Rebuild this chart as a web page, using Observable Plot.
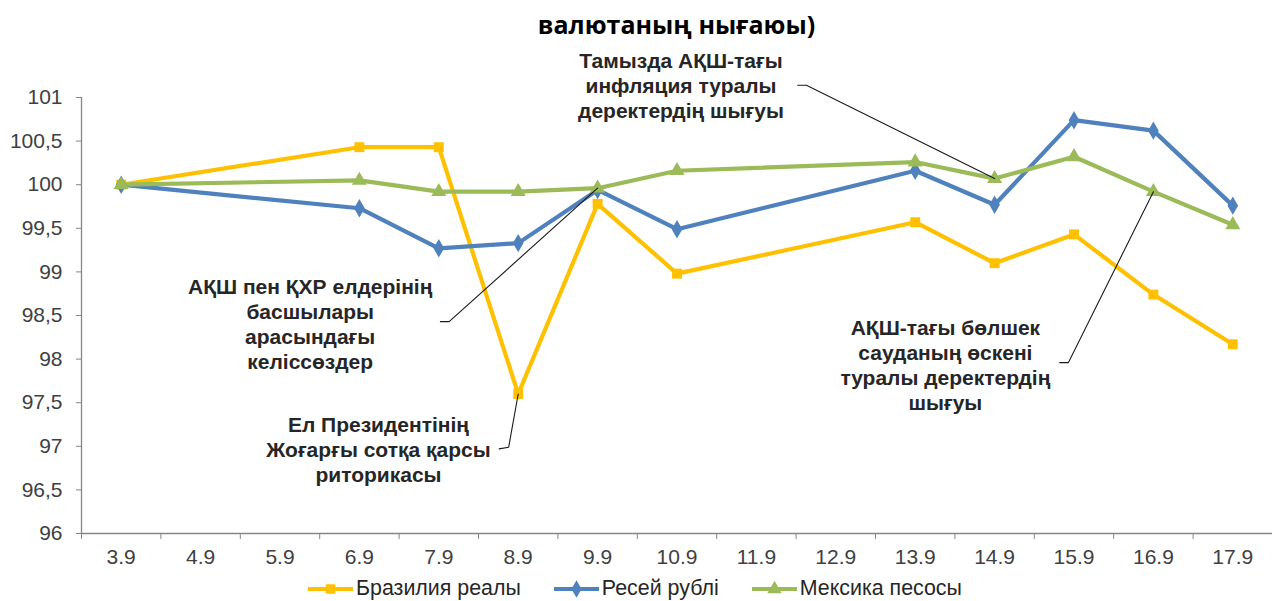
<!DOCTYPE html>
<html>
<head>
<meta charset="utf-8">
<script src="https://cdn.jsdelivr.net/npm/d3@7"></script>
<script src="https://cdn.jsdelivr.net/npm/@observablehq/plot@0.6"></script>
<style>
  html, body { margin: 0; padding: 0; background: #fff; }
  body { width: 1272px; height: 601px; overflow: hidden; position: relative;
         font-family: "Liberation Sans", Arial, sans-serif; }
  #title { position: absolute; top: 7px; left: 81px; width: 1191px; text-align: center;
           font-family: "Open Sans", sans-serif; font-weight: 700; font-size: 25px; color: #000; }
  #chart { position: absolute; top: 40px; left: 0; }
  #legend { position: absolute; top: 576px; left: 308px; display: flex; align-items: center;
            font-size: 21.4px; color: #262626; white-space: nowrap; }
  .item { display: flex; align-items: center; margin-right: 33px; }
  .item svg { margin-right: 3px; }
</style>
</head>
<body>
<div id="title">валютаның нығаюы)</div>
<div id="chart"></div>
<div id="legend"></div>
<script>
// ---- data ----
const categories = ["3.9","4.9","5.9","6.9","7.9","8.9","9.9","10.9","11.9","12.9","13.9","14.9","15.9","16.9","17.9"];
const seriesNames = ["Бразилия реалы", "Ресей рублі", "Мексика песосы"];
const brazil = [100, null, null, 100.43, 100.43, 97.6, 99.78, 98.98, null, null, 99.57, 99.10, 99.43, 98.74, 98.17];
const russia = [100, null, null, 99.73, 99.27, 99.33, 99.94, 99.49, null, null, 100.16, 99.77, 100.74, 100.62, 99.76];
const mexico = [100, null, null, 100.05, 99.92, 99.92, 99.96, 100.16, null, null, 100.26, 100.07, 100.32, 99.92, 99.54];
const yTicks = [96, 96.5, 97, 97.5, 98, 98.5, 99, 99.5, 100, 100.5, 101];
const seriesColors = ["#FFC000", "#4F81BD", "#9BBB59"];
const seriesSymbols = ["square", "diamond", "triangle"];

// annotations: text, text anchor (category index, value), connector start/elbow, target (category, series)
const annTexts = [
  "Тамызда АҚШ-тағы\nинфляция туралы\nдеректердің шығуы",
  "АҚШ пен ҚХР елдерінің\nбасшылары\nарасындағы\nкеліссөздер",
  "Ел Президентінің\nЖоғарғы сотқа қарсы\nриторикасы",
  "АҚШ-тағы бөлшек\nсауданың өскені\nтуралы деректердің\nшығуы"
];
const annX = [7.05, 2.38, 3.24, 10.38];
const annY = [101.14, 98.41, 96.97, 97.94];
const annStart = [[8.52, 101.14], [4.02, 98.43], [4.76, 96.97], [11.82, 97.96]];
const annElbow = [[8.63, 101.14], [4.13, 98.43], [4.88, 96.99], [11.93, 97.96]];
const annTargetCat = ["14.9", "9.9", "8.9", "16.9"];
const annTargetSeries = [2, 2, 0, 2];

// ---- build tables ----
const seriesValues = [brazil, russia, mexico];
const data = [];
seriesValues.forEach((vals, s) => {
  vals.forEach((v, i) => { if (v != null) data.push({series: seriesNames[s], idx: i, value: v}); });
});
const annData = annTexts.map((t, k) => ({text: t, x: annX[k], y: annY[k]}));
const connData = [];
annTexts.forEach((t, k) => {
  const ti = categories.indexOf(annTargetCat[k]);
  const tv = seriesValues[annTargetSeries[k]][ti];
  connData.push({k, x: annStart[k][0], y: annStart[k][1]});
  connData.push({k, x: annElbow[k][0], y: annElbow[k][1]});
  connData.push({k, x: ti, y: tv});
});
const boundaries = d3.range(-0.5, categories.length, 1);
const centers = d3.range(categories.length);
const yMin = yTicks[0], yMax = yTicks[yTicks.length - 1];
const axisGray = "#868686";
const labelColor = "#404040";

const chart = Plot.plot({
  width: 1272,
  height: 530,
  marginLeft: 81,
  marginRight: 0,
  marginTop: 57,
  marginBottom: 37,
  style: {fontFamily: '"Liberation Sans", Arial, sans-serif', background: "#fff", overflow: "visible"},
  x: {type: "linear", domain: [-0.5, categories.length - 0.5], axis: null},
  y: {domain: [yMin, yMax], axis: null},
  color: {domain: seriesNames, range: seriesColors},
  symbol: {domain: seriesNames, range: seriesSymbols},
  marks: [
    // axes lines
    Plot.ruleY([yMin], {stroke: axisGray, strokeWidth: 1.3}),
    Plot.ruleX([-0.5], {y1: yMin, y2: yMax, stroke: axisGray, strokeWidth: 1.3}),
    // y axis
    Plot.axisY(yTicks, {tickSize: 5, tickPadding: 14, stroke: axisGray, fill: labelColor, fontSize: 21,
      tickFormat: d => String(d).replace(".", ",")}),
    // x axis: boundary tick marks + centered labels
    Plot.axisX(boundaries, {tickSize: 6, tickFormat: () => "", stroke: axisGray}),
    Plot.axisX(centers, {tickSize: 0, tickPadding: 16, fill: labelColor, fontSize: 21,
      tickFormat: i => categories[i]}),
    // series
    Plot.line(data, {x: "idx", y: "value", z: "series", stroke: "series", strokeWidth: 4.2, strokeLinejoin: "round"}),
    Plot.dot(data, {x: "idx", y: "value", symbol: "series", fill: "series", r: 5.6, stroke: "none"}),
    // annotations
    Plot.line(connData, {x: "x", y: "y", z: "k", stroke: "#1a1a1a", strokeWidth: 1.1}),
    Plot.text(annData, {x: "x", y: "y", text: "text", lineAnchor: "middle", textAnchor: "middle",
      fontSize: 21, fontWeight: "bold", fill: "#262626", lineHeight: 1.19})
  ]
});
document.getElementById("chart").appendChild(chart);

// legend
const legend = document.getElementById("legend");
seriesNames.forEach((name, s) => {
  const item = document.createElement("div");
  item.className = "item";
  const sym = d3.symbol(s === 0 ? d3.symbolSquare : s === 1 ? d3.symbolDiamond : d3.symbolTriangle, 90)();
  item.innerHTML = `<svg width="45" height="20" viewBox="0 0 45 20">
      <line x1="0" y1="10" x2="45" y2="10" stroke="${seriesColors[s]}" stroke-width="4.2"/>
      <path d="${sym}" transform="translate(22.5,10)" fill="${seriesColors[s]}"/>
    </svg><span>${name}</span>`;
  legend.appendChild(item);
});
</script>
</body>
</html>
